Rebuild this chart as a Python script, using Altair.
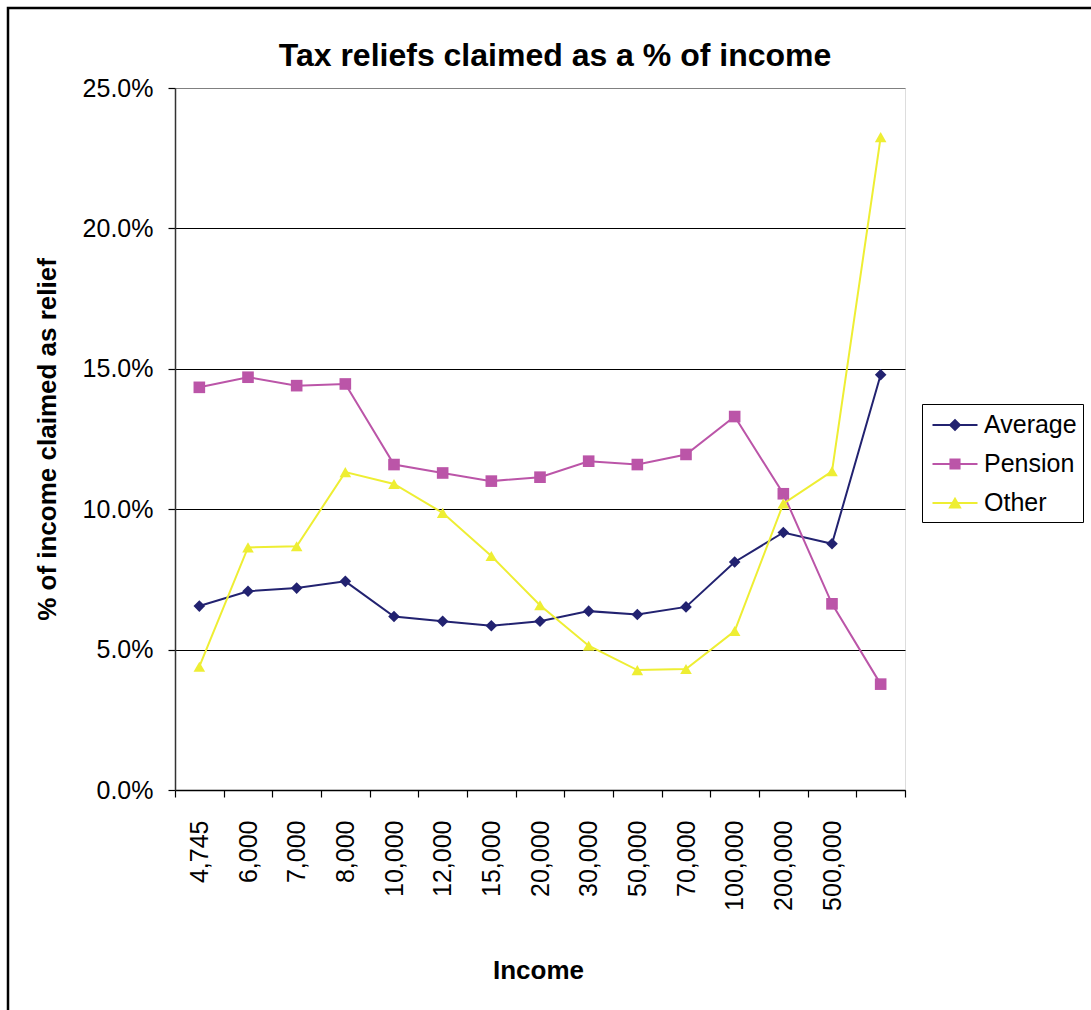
import altair as alt
import pandas as pd

# ---------------- data (percent of income) ----------------
categories = ["4,745", "6,000", "7,000", "8,000", "10,000", "12,000", "15,000",
              "20,000", "30,000", "50,000", "70,000", "100,000", "200,000",
              "500,000", "Over 500,000"]
series_names = ["Average", "Pension", "Other"]
average = [6.55, 7.08, 7.19, 7.43, 6.18, 6.01, 5.85, 6.01, 6.37, 6.25, 6.52,
           8.12, 9.17, 8.77, 14.79]
pension = [14.34, 14.70, 14.40, 14.46, 11.59, 11.29, 11.00, 11.14, 11.71, 11.59,
           11.95, 13.30, 10.55, 6.63, 3.77]
other = [4.39, 8.64, 8.68, 11.32, 10.90, 9.87, 8.33, 6.58, 5.14, 4.27, 4.31,
         5.66, 10.20, 11.35, 23.25]
y_ticks = [0, 5, 10, 15, 20, 25]

colors = ["#222270", "#BB55A8", "#EEEE33"]
shapes = ["diamond", "square", "triangle-up"]
LINE = "M-1.5,-0.07L1.5,-0.07L1.5,0.07L-1.5,0.07Z"
legend_shapes = [
    LINE + "M0,-0.42L0.42,0L0,0.42L-0.42,0Z",
    LINE + "M-0.37,-0.37L0.37,-0.37L0.37,0.37L-0.37,0.37Z",
    LINE + "M0,-0.42L0.45,0.36L-0.45,0.36Z",
]

rows = []
for name, vals in zip(series_names, [average, pension, other]):
    for c, v in zip(categories, vals):
        rows.append({"income": c, "series": name, "value": v})
df = pd.DataFrame(rows)

FONT = "Liberation Sans"

x_enc = alt.X(
    "income:N", sort=categories,
    scale=alt.Scale(type="band", paddingInner=0, paddingOuter=0),
    axis=alt.Axis(
        title="Income", labelAngle=-90, labelAlign="right", labelBaseline="middle",
        tickBand="extent", labelOverlap=False,
        labelExpr="datum.value == 'Over 500,000' ? '' : datum.value",
        grid=False, domainColor="black", domainWidth=1.5, tickColor="black",
        tickWidth=1.2, tickSize=7, labelPadding=23, labelFontSize=25,
        labelFont=FONT, labelColor="black", titleFont=FONT, titleFontSize=26,
        titleFontWeight="bold", titleColor="black", titleX=363, titleY=188,
        titleBaseline="alphabetic", titleAlign="center",
    ),
)
y_enc = alt.Y(
    "value:Q",
    scale=alt.Scale(domain=[0, 25], nice=False, zero=True),
    axis=alt.Axis(
        values=y_ticks, labelExpr="format(datum.value, '.1f') + '%'",
        title="% of income claimed as relief", grid=True,
        gridColor={"condition": {"test": "datum.value >= 25", "value": "#808080"},
                   "value": "black"},
        gridWidth=1.2, domainColor="#333333", domainWidth=1.5,
        tickColor="black", tickWidth=1.2, tickSize=7, labelPadding=15,
        labelFontSize=25, labelFont=FONT, labelColor="black",
        titleFont=FONT, titleFontSize=26, titleFontWeight="bold",
        titleColor="black", titleX=-128, titleY=351, titleAngle=-90,
        titleBaseline="middle", titleAlign="center",
    ),
)

color_scale = alt.Scale(domain=series_names, range=colors)

base = alt.Chart(df)

lines = base.mark_line(strokeWidth=2).encode(
    x=x_enc, y=y_enc,
    color=alt.Color("series:N", scale=color_scale, legend=None),
)

points = base.mark_point(filled=True, size=135, opacity=1).encode(
    x=x_enc, y=y_enc,
    color=alt.Color("series:N", scale=color_scale, legend=None),
    shape=alt.Shape("series:N", scale=alt.Scale(domain=series_names, range=shapes),
                    legend=None),
)

leg_props = dict(
    orient="none", legendX=747, legendY=316, title=None,
    symbolSize=900, symbolStrokeWidth=0, symbolOpacity=1,
    labelFontSize=25, labelFont=FONT, labelColor="black",
    fillColor="white", strokeColor="black", padding=6, rowPadding=11,
    symbolOffset=12, labelOffset=14,
)

legend_layer = base.mark_point(filled=True, opacity=0).encode(
    x=x_enc, y=y_enc,
    color=alt.Color("series:N", scale=color_scale, legend=alt.Legend(**leg_props)),
    shape=alt.Shape("series:N",
                    scale=alt.Scale(domain=series_names, range=legend_shapes),
                    legend=alt.Legend(**leg_props)),
)

frame = alt.Chart(pd.DataFrame({"f": [0]})).mark_rect(
    fillOpacity=0, stroke="black", strokeWidth=2.5
).encode(
    x=alt.value(-167), x2=alt.value(1100), y=alt.value(-80), y2=alt.value(1100)
)

chart = alt.layer(frame, lines, points, legend_layer).resolve_scale(
    shape="independent", color="independent"
).properties(
    width=730, height=702,
    title=alt.Title("Tax reliefs claimed as a % of income", fontSize=32,
                    font=FONT, fontWeight="bold", anchor="middle",
                    baseline="alphabetic", color="black", offset=-91, dx=15),
    padding={"left": 175, "top": 88, "right": 186, "bottom": 220},
    autosize=alt.AutoSizeParams(type="none"),
).configure_view(
    fill="#C0C0C0", stroke="#808080", strokeWidth=2
).configure(background="white")

chart.save("out.html", embed_options={"renderer": "svg", "actions": False})
